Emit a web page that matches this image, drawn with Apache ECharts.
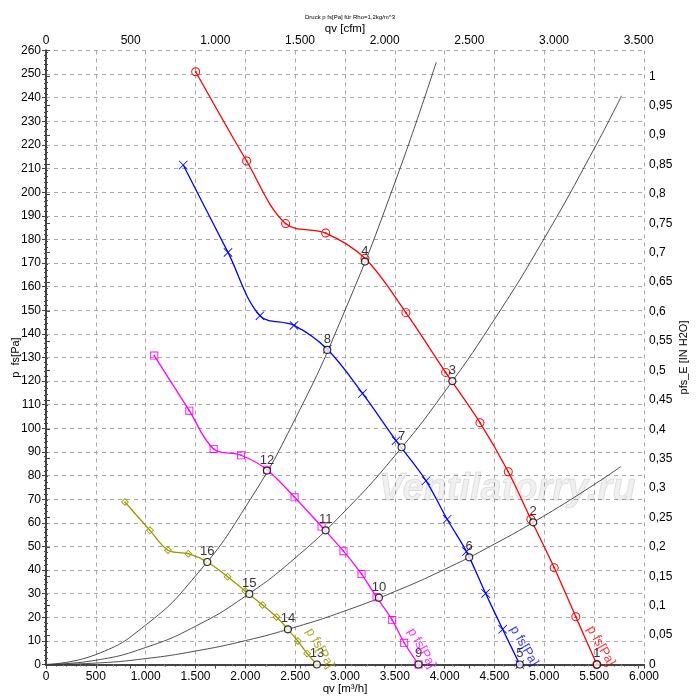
<!DOCTYPE html>
<html><head><meta charset="utf-8">
<script src="https://cdn.jsdelivr.net/npm/echarts@6/dist/echarts.min.js"></script>
<style>html,body{margin:0;padding:0;background:#fff}#c{width:700px;height:700px}</style>
</head><body><div id="c"></div>
<script>
// ---- data (qv in m3/h, p in Pa) ----
const redQ  = [1502, 2013, 2404, 2806, 3200, 3611, 4010, 4354, 4638, 4865, 5099, 5316, 5527];
const redP  = [251.0, 213.2, 186.7, 182.7, 172.0, 149.0, 123.7, 102.4, 81.6, 61.5, 41.0, 20.2, 0];
const blueQ = [1377, 1826, 2147, 2488, 2822, 3176, 3512, 3813, 4025, 4219, 4411, 4582, 4754];
const blueP = [211.5, 174.5, 147.7, 143.6, 133.5, 114.8, 94.8, 77.8, 61.5, 47.8, 30.1, 14.9, 0];
const magQ  = [1086, 1438, 1682, 1957, 2217, 2494, 2765, 2985, 3166, 3317, 3474, 3594, 3738];
const magP  = [130.8, 107.5, 91.3, 88.6, 82.5, 70.8, 58.4, 48.0, 38.3, 28.5, 18.8, 9.2, 0];
const oliQ  = [792, 1043, 1224, 1428, 1618, 1822, 1999, 2173, 2313, 2427, 2527, 2620, 2718];
const oliP  = [68.8, 56.8, 48.4, 46.9, 43.4, 37.2, 31.1, 25.2, 20.1, 14.9, 9.95, 4.7, 0];

// system curves
const sysAQ = [0, 500, 1000, 1500, 2000, 2500, 3000, 3500, 3915];
const sysAP = [0, 4.2, 16.7, 37.5, 66.6, 104, 150, 204, 255];
const sysBQ = [0, 500, 1000, 1500, 2000, 2500, 3000, 3500, 4000, 4500, 5000, 5500, 5775];
const sysBP = [0, 1.8, 7.2, 16.2, 28.9, 45.1, 65, 88.4, 115.5, 146.2, 180.5, 218.4, 240.8];
const sysCQ = [0, 500, 1000, 1500, 2000, 2500, 3000, 3500, 4000, 4500, 5000, 5500, 5770];
const sysCP = [0, 0.6, 2.5, 5.7, 10.1, 15.8, 22.7, 30.9, 40.3, 51, 63, 76.2, 83.9];

// operating points 1..16
const opLabels = ['1','2','3','4','5','6','7','8','9','10','11','12','13','14','15','16'];
const opQ = [5527, 4888, 4077, 3200, 4754, 4246, 3568, 2822, 3738, 3340, 2806, 2217, 2718, 2427, 2040, 1618];
const opP = [0, 60.2, 120.0, 170.6, 0, 45.4, 92.0, 133.2, 0, 28.3, 56.8, 82.1, 0, 14.9, 29.9, 43.4];

// curve name labels
const nameText = 'p fs[Pa]';
const nameQ = [5567, 4797, 3768, 2748];
const nameP = [7.8, 7.8, 6.9, 6.9];

const qMax = 6000, pMax = 260;
const cfmMax = qMax / 1.69901;
const inH2OMax = pMax / 249.089;

const FONT = "'Liberation Sans', Arial, sans-serif";
const pairs = (a, b) => a.map((v, i) => [v, b[i]]);
const thou = v => Math.round(v).toString().replace(/\B(?=(\d{3})+(?!\d))/g, '.');

const symCircle = 'path://M10,0A10,10,0,1,1,10,20A10,10,0,1,1,10,0ZM10,2.2A7.8,7.8,0,1,0,10,17.8A7.8,7.8,0,1,0,10,2.2ZM10,8A2,2,0,1,1,10,12A2,2,0,1,1,10,8Z';
const symSquare = 'path://M0,0H20V20H0ZM2.2,2.2V17.8H17.8V2.2ZM8,8H12V12H8Z';
const symDiamond = 'path://M10,0L20,10L10,20L0,10ZM10,3L3,10L10,17L17,10ZM10,8L12,10L10,12L8,10Z';
const symX = 'path://M0,1.3L1.3,0L10,8.7L18.7,0L20,1.3L11.3,10L20,18.7L18.7,20L10,11.3L1.3,20L0,18.7L8.7,10Z';

const axisLine = {show: true, lineStyle: {color: '#444', width: 2}};
const labelStyle = {color: '#000', fontSize: 12, fontFamily: FONT};
const split = {show: true, lineStyle: {color: '#a8a8a8', type: [4, 4], width: 1}};

function sysSeries(q, p) {
  return {type: 'line', data: pairs(q, p), smooth: 0.5, symbol: 'none',
    lineStyle: {color: '#3a3a3a', width: 0.9}, z: 2, silent: true};
}
function fanSeries(q, p, color, sym, size) {
  return {type: 'line', data: pairs(q, p), smooth: 0.35, symbol: sym, symbolSize: size,
    lineStyle: {color, width: 1.3}, itemStyle: {color}, z: 3, silent: true};
}

const chart = echarts.init(document.getElementById('c'), null, {renderer: 'canvas'});
chart.setOption({
  animation: false,
  backgroundColor: '#fff',
  title: {text: 'Druck p fs[Pa] für Rho=1,2kg/m^3', left: 'center', top: 9,
    textStyle: {fontSize: 6, fontWeight: 'normal', color: '#000', fontFamily: FONT}},
  grid: {left: 46, right: 56, top: 50.5, bottom: 35.5, containLabel: false, outerBoundsMode: 'none'},
  xAxis: [
    {type: 'value', position: 'bottom', min: 0, max: qMax, interval: 500,
      name: 'qv [m³/h]', nameLocation: 'middle', nameGap: 18, nameMoveOverlap: false,
      nameTextStyle: {fontSize: 11.5, color: '#000', fontFamily: FONT},
      axisLine, axisTick: {show: true, length: 4, lineStyle: {color: '#444'}},
      minorTick: {show: true, splitNumber: 5, length: 2, lineStyle: {color: '#444'}},
      axisLabel: Object.assign({margin: 6, formatter: thou}, labelStyle),
      splitLine: split},
    {type: 'value', position: 'top', min: 0, max: cfmMax, interval: 500,
      name: 'qv [cfm]', nameLocation: 'middle', nameGap: 16, nameMoveOverlap: false,
      nameTextStyle: {fontSize: 11.5, color: '#000', fontFamily: FONT},
      axisLine, axisTick: {show: true, inside: true, length: 4, lineStyle: {color: '#444'}},
      minorTick: {show: true, splitNumber: 5, length: 2, lineStyle: {color: '#888'}},
      axisLabel: Object.assign({margin: 4, formatter: thou, showMaxLabel: false}, labelStyle),
      splitLine: {show: false}}
  ],
  yAxis: [
    {type: 'value', position: 'left', min: 0, max: pMax, interval: 10,
      name: 'p  fs[Pa]', nameLocation: 'middle', nameGap: 25, nameRotate: 90, nameMoveOverlap: false,
      nameTextStyle: {fontSize: 11, color: '#000', fontFamily: FONT},
      axisLine, axisTick: {show: true, length: 4, lineStyle: {color: '#444'}},
      minorTick: {show: true, splitNumber: 5, length: 2, lineStyle: {color: '#444'}},
      axisLabel: Object.assign({margin: 5}, labelStyle),
      splitLine: split},
    {type: 'value', position: 'right', min: 0, max: inH2OMax, interval: 0.05,
      name: 'pfs_E [IN H2O]', nameLocation: 'middle', nameGap: 34, nameRotate: 90, nameMoveOverlap: false,
      nameTextStyle: {fontSize: 11, color: '#000', fontFamily: FONT},
      axisLine, axisTick: {show: true, length: 4, lineStyle: {color: '#444'}},
      minorTick: {show: true, splitNumber: 5, length: 2, lineStyle: {color: '#444'}},
      axisLabel: Object.assign({margin: 5, showMaxLabel: false,
        formatter: v => parseFloat(v.toFixed(2)).toString().replace('.', ',')}, labelStyle),
      splitLine: {show: false}}
  ],
  graphic: [{type: 'text', left: 378, top: 470, z: 1, silent: true,
    style: {text: 'Ventilatorry.ru', font: 'italic bold 38px ' + FONT,
      fill: 'rgba(0,0,0,0.06)', stroke: 'rgba(0,0,0,0.10)', lineWidth: 1}}],
  series: [
    sysSeries(sysAQ, sysAP),
    sysSeries(sysBQ, sysBP),
    sysSeries(sysCQ, sysCP),
    fanSeries(redQ, redP, '#ff0000', symCircle, 9),
    fanSeries(blueQ, blueP, '#0000ff', symX, 9),
    fanSeries(magQ, magP, '#ff00ff', symSquare, 8),
    fanSeries(oliQ, oliP, '#999900', symDiamond, 8),
    {type: 'scatter', data: pairs(opQ, opP), symbol: 'circle', symbolSize: 7, z: 5, silent: true,
      itemStyle: {color: '#fff', borderColor: '#000', borderWidth: 1.2},
      label: {show: true, position: 'top', distance: 0, color: '#000', fontSize: 13, fontFamily: FONT,
        formatter: p => opLabels[p.dataIndex]}},
    {type: 'scatter', symbolSize: 0, z: 6, silent: true,
      data: nameQ.map((q, i) => ({value: [q, nameP[i]],
        label: {color: ['#ff0000', '#0000ff', '#ff00ff', '#999900'][i]}})),
      label: {show: true, position: 'inside', rotate: -60, fontSize: 13, fontFamily: FONT,
        align: 'center', verticalAlign: 'middle', formatter: () => nameText}}
  ]
});
</script></body></html>
